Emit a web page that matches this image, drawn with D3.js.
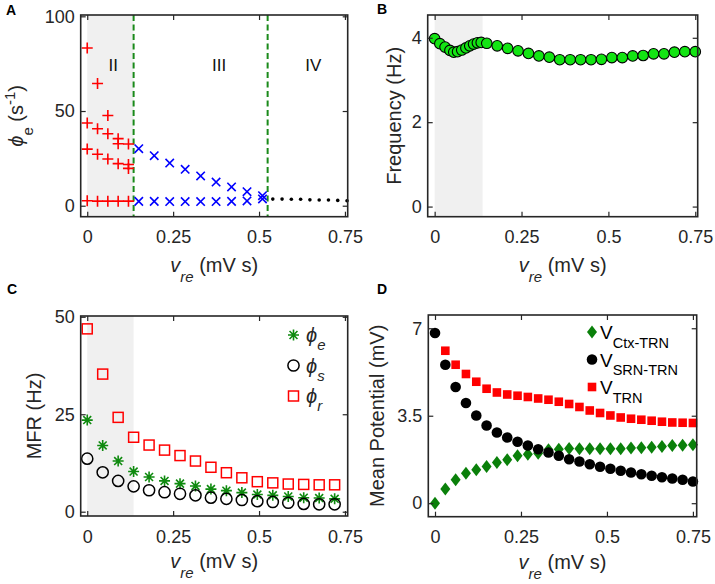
<!DOCTYPE html>
<html><head><meta charset="utf-8">
<script src="https://cdn.jsdelivr.net/npm/d3@7"></script>
<style>
body{margin:0;background:#fff;}
svg{display:block;font-family:"Liberation Sans",Arial,Helvetica,sans-serif;}
</style>
</head><body>
<svg id="c" width="715" height="584"></svg>
<script>
// ---------- DATA ----------
const xTicks = [0, 0.25, 0.5, 0.75];
const xTickLabels = ["0", "0.25", "0.5", "0.75"];

// Panel A
const aRedX = [0, 0.03, 0.06, 0.09, 0.12];
const aRed1 = [83.3, 64.5, 47.6, 35.4, 32.6];
const aRed2 = [43.7, 40.6, 38.0, 32.7, 21.8];
const aRed3 = [29.9, 27.2, 24.7, 22.2, 19.7];
const aRed4 = [2.6, 2.4, 2.4, 2.4, 2.4];
const aBlueX = [0.15, 0.195, 0.24, 0.285, 0.33, 0.375, 0.42, 0.465, 0.51];
const aBlueUpper = [30.1, 26.4, 22.5, 19.2, 15.7, 12.5, 9.9, 7.4, 5.3];
const aBlueLower = [2.3, 2.3, 2.2, 2.2, 2.2, 2.2, 2.3, 2.5, 3.6];
const aDotX = [0.54, 0.567, 0.594, 0.621, 0.648, 0.675, 0.702, 0.729, 0.756];
const aDotY = [3.5, 3.5, 3.4, 3.4, 3.1, 3.0, 3.0, 2.8, 2.6];
const aBoundaries = [0.135, 0.525];
const aRegions = ["II", "III", "IV"];
const aRegionX = [0.0755, 0.384, 0.658];
const aYTicks = [0, 50, 100];

// Panel B
const bX = [0, 0.015, 0.03, 0.044, 0.055, 0.066, 0.078, 0.09, 0.101, 0.112, 0.123, 0.134,
  0.15, 0.18, 0.21, 0.24, 0.27, 0.30, 0.33, 0.36, 0.39, 0.42, 0.45, 0.48, 0.51, 0.54, 0.57,
  0.60, 0.63, 0.66, 0.69, 0.72, 0.75];
const bFreq = [3.98, 3.86, 3.78, 3.70, 3.66, 3.67, 3.71, 3.76, 3.81, 3.85, 3.88, 3.89,
  3.87, 3.81, 3.75, 3.69, 3.63, 3.57, 3.54, 3.48, 3.48, 3.48, 3.48, 3.49, 3.53, 3.53, 3.57,
  3.58, 3.62, 3.62, 3.66, 3.67, 3.67];
const bYTicks = [0, 2, 4];

// Panel C
const cX = [0, 0.045, 0.09, 0.135, 0.18, 0.225, 0.27, 0.315, 0.36, 0.405, 0.45, 0.495, 0.54, 0.585, 0.63, 0.675, 0.72];
const cPhiE = [23.5, 17.0, 13.0, 10.3, 8.9, 7.9, 7.2, 6.6, 5.8, 5.4, 4.9, 4.4, 4.2, 3.9, 3.6, 3.5, 3.3];
const cPhiS = [13.6, 10.1, 7.9, 6.5, 5.5, 5.0, 4.6, 4.2, 3.6, 3.3, 3.0, 2.7, 2.5, 2.3, 2.0, 1.9, 1.9];
const cPhiR = [46.9, 35.3, 24.2, 19.1, 17.1, 15.8, 14.4, 13.0, 11.4, 10.0, 8.7, 7.7, 7.4, 7.1, 7.0, 6.9, 6.9];
const cLegend = ["e", "s", "r"];
const cYTicks = [0, 25, 50];

// Panel D
const dX = [0, 0.03, 0.06, 0.09, 0.12, 0.15, 0.18, 0.21, 0.24, 0.27, 0.30, 0.33, 0.36, 0.39,
  0.42, 0.45, 0.48, 0.51, 0.54, 0.57, 0.60, 0.63, 0.66, 0.69, 0.72, 0.75];
const dCtx = [0, 0.57, 0.94, 1.20, 1.34, 1.47, 1.63, 1.74, 1.90, 1.96, 2.00, 2.14, 2.16, 2.19,
  2.18, 2.18, 2.18, 2.18, 2.18, 2.21, 2.22, 2.24, 2.27, 2.31, 2.32, 2.34];
const dSrn = [6.81, 5.54, 4.65, 4.01, 3.51, 3.11, 2.83, 2.63, 2.46, 2.31, 2.16, 2.03, 1.90, 1.76,
  1.67, 1.56, 1.46, 1.38, 1.30, 1.23, 1.16, 1.10, 1.04, 0.99, 0.94, 0.87];
const dTrn = [null, 6.10, 5.54, 5.17, 4.86, 4.58, 4.43, 4.35, 4.30, 4.25, 4.19, 4.14, 4.06, 3.97,
  3.85, 3.71, 3.61, 3.51, 3.43, 3.38, 3.34, 3.30, 3.26, 3.23, 3.22, 3.21];
const dLegend = ["Ctx-TRN", "SRN-TRN", "TRN"];
const dYTicks = [0, 3.5, 7];
const dYTickLabels = ["0", "3.5", "7"];

// ---------- DRAWING ----------
const svg = d3.select("#c");
const AX = "#262626";
const SHADE = "#f0f0f0";

function panel(o) {
  const x = d3.scaleLinear().domain(o.xd).range([o.l, o.r]);
  const y = d3.scaleLinear().domain(o.yd).range([o.b, o.t]);
  const g = svg.append("g");
  if (o.shade) {
    g.append("rect").attr("x", x(o.shade[0])).attr("y", o.t)
      .attr("width", x(o.shade[1]) - x(o.shade[0])).attr("height", o.b - o.t)
      .attr("fill", SHADE);
  }
  const marks = g.append("g");
  const axes = svg.append("g").attr("font-size", 18).attr("fill", AX);
  const fmtX = (d, i) => xTickLabels[i];
  const bx = axes.append("g").attr("transform", `translate(0,${o.b})`)
    .call(d3.axisBottom(x).tickValues(xTicks).tickFormat(fmtX).tickSizeInner(-5).tickSizeOuter(0).tickPadding(14));
  const tx = axes.append("g").attr("transform", `translate(0,${o.t})`)
    .call(d3.axisTop(x).tickValues(xTicks).tickFormat("").tickSizeInner(-5).tickSizeOuter(0));
  const ly = axes.append("g").attr("transform", `translate(${o.l},0)`)
    .call(d3.axisLeft(y).tickValues(o.yt).tickFormat((d, i) => o.ytl ? o.ytl[i] : d).tickSizeInner(-5).tickSizeOuter(0).tickPadding(6));
  const ry = axes.append("g").attr("transform", `translate(${o.r},0)`)
    .call(d3.axisRight(y).tickValues(o.yt).tickFormat("").tickSizeInner(-5).tickSizeOuter(0));
  [bx, tx, ly, ry].forEach(a => {
    a.select(".domain").remove();
    a.selectAll(".tick line").attr("stroke", AX).attr("stroke-width", 1.2);
    a.selectAll(".tick text").attr("fill", AX).attr("font-size", 18)
      .attr("font-family", '"Liberation Sans",Arial,sans-serif');
  });
  axes.append("rect").attr("x", o.l).attr("y", o.t).attr("width", o.r - o.l).attr("height", o.b - o.t)
    .attr("fill", "none").attr("stroke", AX).attr("stroke-width", 1.6);
  // x label
  const xl = axes.append("text").attr("x", (o.l + o.r) / 2).attr("y", o.b + o.xlo)
    .attr("text-anchor", "middle").attr("font-size", 20).attr("fill", AX);
  xl.append("tspan").attr("font-style", "italic").text("v");
  xl.append("tspan").attr("font-style", "italic").attr("font-size", 15).attr("dy", 10).text("re");
  xl.append("tspan").attr("dy", -10).text(" (mV s)");
  // y label
  const yl = axes.append("text").attr("transform", `translate(${o.ylx},${(o.t + o.b) / 2}) rotate(-90)`)
    .attr("text-anchor", "middle").attr("font-size", 20).attr("fill", AX);
  o.ylabel(yl);
  // panel letter
  svg.append("text").attr("x", o.lx).attr("y", o.ly).attr("font-size", 14).attr("font-weight", "bold")
    .attr("fill", "#000").text(o.letter);
  return { g: marks, x, y, axes };
}

function plusPath(cx, cy, h) { return `M${cx - h},${cy}H${cx + h}M${cx},${cy - h}V${cy + h}`; }
function crossPath(cx, cy, h) { return `M${cx - h},${cy - h}L${cx + h},${cy + h}M${cx - h},${cy + h}L${cx + h},${cy - h}`; }
function starPath(cx, cy, h) { const k = h * 0.72; return plusPath(cx, cy, h) + crossPath(cx, cy, k); }
function diamondPath(cx, cy, w, h) { return `M${cx},${cy - h}L${cx + w},${cy}L${cx},${cy + h}L${cx - w},${cy}Z`; }

// ---- Panel A ----
const A = panel({
  l: 80.7, r: 347.7, t: 15, b: 216.7, xd: [-0.019, 0.758], yd: [-5.8, 100.7], yt: aYTicks,
  shade: [0, 0.135], ylx: 23, xlo: 55, letter: "A", lx: 6, ly: 15,
  ylabel: t => {
    t.append("tspan").attr("font-style", "italic").text("ϕ");
    t.append("tspan").attr("font-size", 15).attr("dy", 10).text("e");
    t.append("tspan").attr("dy", -10).text(" (s");
    t.append("tspan").attr("font-size", 15).attr("dy", -8).text("-1");
    t.append("tspan").attr("dy", 8).text(")");
  }
});
aBoundaries.forEach(v => {
  A.g.append("line").attr("x1", A.x(v)).attr("x2", A.x(v)).attr("y1", 15).attr("y2", 216.7)
    .attr("stroke", "#1a8a1a").attr("stroke-width", 2).attr("stroke-dasharray", "6,3.5");
});
aRegions.forEach((r, i) => {
  A.g.append("text").attr("x", A.x(aRegionX[i])).attr("y", A.y(74.3)).attr("dy", "0.36em")
    .attr("text-anchor", "middle").attr("font-size", 17).attr("fill", "#111").text(r);
});
[aRed1, aRed2, aRed3, aRed4].forEach(arr => {
  arr.forEach((v, i) => {
    A.g.append("path").attr("d", plusPath(A.x(aRedX[i]), A.y(v), 5.5))
      .attr("stroke", "#ff0000").attr("stroke-width", 1.6).attr("fill", "none");
  });
});
[aBlueUpper, aBlueLower].forEach(arr => {
  arr.forEach((v, i) => {
    A.g.append("path").attr("d", crossPath(A.x(aBlueX[i]), A.y(v), 4.2))
      .attr("stroke", "#0000ff").attr("stroke-width", 1.6).attr("fill", "none");
  });
});
A.g.selectAll("circle.dot").data(aDotX).enter().append("circle")
  .attr("cx", d => A.x(d)).attr("cy", (d, i) => A.y(aDotY[i])).attr("r", 1.8).attr("fill", "#000");

// ---- Panel B ----
const B = panel({
  l: 427.7, r: 697.7, t: 15, b: 216.7, xd: [-0.02, 0.757], yd: [-0.24, 4.54], yt: bYTicks,
  shade: [0, 0.138], ylx: 401, xlo: 55, letter: "B", lx: 377, ly: 14,
  ylabel: t => t.text("Frequency (Hz)")
});
B.g.selectAll("circle").data(bX).enter().append("circle")
  .attr("cx", d => B.x(d)).attr("cy", (d, i) => B.y(bFreq[i])).attr("r", 5.3)
  .attr("fill", "#13e513").attr("stroke", "#000").attr("stroke-width", 1.1);

// ---- Panel C ----
const C = panel({
  l: 80.7, r: 347.7, t: 316, b: 516, xd: [-0.019, 0.758], yd: [-1.1, 50.2], yt: cYTicks,
  shade: [0, 0.135], ylx: 41, xlo: 52, letter: "C", lx: 7, ly: 294,
  ylabel: t => t.text("MFR (Hz)")
});
const GREEN = "#0f8a0f";
cPhiE.forEach((v, i) => {
  C.g.append("path").attr("d", starPath(C.x(cX[i]), C.y(v), 5.5))
    .attr("stroke", GREEN).attr("stroke-width", 1.6).attr("fill", "none");
});
cPhiS.forEach((v, i) => {
  C.g.append("circle").attr("cx", C.x(cX[i])).attr("cy", C.y(v)).attr("r", 5.6)
    .attr("stroke", "#000").attr("stroke-width", 1.5).attr("fill", "none");
});
cPhiR.forEach((v, i) => {
  C.g.append("rect").attr("x", C.x(cX[i]) - 5).attr("y", C.y(v) - 5).attr("width", 10).attr("height", 10)
    .attr("stroke", "#ff0000").attr("stroke-width", 1.5).attr("fill", "none");
});
// legend C
const cLegY = [335, 365.5, 396];
cLegend.forEach((s, i) => {
  const mx = 293.5, my = cLegY[i];
  if (i === 0) C.axes.append("path").attr("d", starPath(mx, my, 5.5)).attr("stroke", GREEN).attr("stroke-width", 1.6).attr("fill", "none");
  if (i === 1) C.axes.append("circle").attr("cx", mx).attr("cy", my).attr("r", 5.6).attr("stroke", "#000").attr("stroke-width", 1.5).attr("fill", "none");
  if (i === 2) C.axes.append("rect").attr("x", mx - 5).attr("y", my - 5).attr("width", 10).attr("height", 10).attr("stroke", "#ff0000").attr("stroke-width", 1.5).attr("fill", "none");
  const t = C.axes.append("text").attr("x", 306).attr("y", my + 7).attr("font-size", 20).attr("fill", AX);
  t.append("tspan").attr("font-style", "italic").text("ϕ");
  t.append("tspan").attr("font-style", "italic").attr("font-size", 15).attr("dy", 8).text(s);
});

// ---- Panel D ----
const D = panel({
  l: 428.3, r: 696.7, t: 315, b: 516.7, xd: [-0.0195, 0.761], yd: [-0.54, 7.53], yt: dYTicks, ytl: dYTickLabels,
  shade: null, ylx: 384, xlo: 52, letter: "D", lx: 377, ly: 294,
  ylabel: t => t.text("Mean Potential (mV)")
});
const DGREEN = "#0a800a";
dCtx.forEach((v, i) => {
  D.g.append("path").attr("d", diamondPath(D.x(dX[i]), D.y(v), 5, 6.5)).attr("fill", DGREEN);
});
dSrn.forEach((v, i) => {
  D.g.append("circle").attr("cx", D.x(dX[i])).attr("cy", D.y(v)).attr("r", 5.3).attr("fill", "#000");
});
dTrn.forEach((v, i) => {
  if (v === null) return;
  D.g.append("rect").attr("x", D.x(dX[i]) - 4.3).attr("y", D.y(v) - 4.3).attr("width", 8.6).attr("height", 8.6).attr("fill", "#ff0000");
});
// legend D
const dLegY = [332, 359.5, 387];
dLegend.forEach((s, i) => {
  const mx = 592, my = dLegY[i];
  if (i === 0) D.axes.append("path").attr("d", diamondPath(mx, my, 5, 6.5)).attr("fill", DGREEN);
  if (i === 1) D.axes.append("circle").attr("cx", mx).attr("cy", my).attr("r", 5.3).attr("fill", "#000");
  if (i === 2) D.axes.append("rect").attr("x", mx - 4.3).attr("y", my - 4.3).attr("width", 8.6).attr("height", 8.6).attr("fill", "#ff0000");
  const t = D.axes.append("text").attr("x", 600).attr("y", my + 7).attr("font-size", 19).attr("fill", "#000");
  t.append("tspan").text("V");
  t.append("tspan").attr("font-size", 14.5).attr("dy", 8.5).text(s);
});
</script>
</body></html>
